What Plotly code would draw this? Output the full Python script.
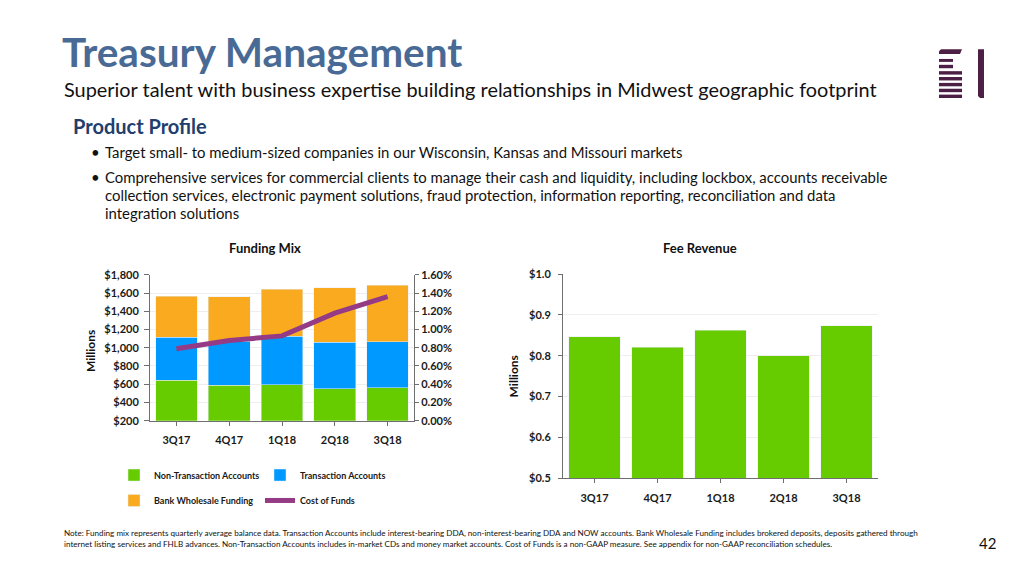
import plotly.graph_objects as go

quarters = ["3Q17", "4Q17", "1Q18", "2Q18", "3Q18"]
non_transaction = [645, 590, 595, 550, 560]
transaction = [470, 480, 530, 510, 505]
bank_wholesale = [450, 492, 515, 600, 620]
cost_of_funds = [0.79, 0.88, 0.93, 1.18, 1.36]
fee_revenue = [0.847, 0.821, 0.862, 0.800, 0.874]

funding_ticks = [200, 400, 600, 800, 1000, 1200, 1400, 1600, 1800]
cof_ticks = [0.0, 0.2, 0.4, 0.6, 0.8, 1.0, 1.2, 1.4, 1.6]
fee_ticks = [0.5, 0.6, 0.7, 0.8, 0.9, 1.0]

funding_labels = [f"${v:,}" for v in funding_ticks]
cof_labels = [f"{v:.2f}%" for v in cof_ticks]
fee_labels = [f"${v:.1f}" for v in fee_ticks]

GREEN = "#66CC00"
BLUE = "#0099FF"
ORANGE = "#F9AA1F"
PURPLE = "#953B86"
FONT = "Lato"

# The page body has an 8px margin on every side; size the figure so the page
# is exactly 1024x576 and shift coordinates by that margin.
OFF = 8
W, H = 1024 - OFF, 576 - 2 * OFF


def px(x):
    return (x - OFF) / W


def py(y):
    return 1 - (y - OFF) / H


fig = go.Figure()

fig.add_trace(go.Bar(x=quarters, y=non_transaction, name="Non-Transaction Accounts",
                     marker_color=GREEN, xaxis="x", yaxis="y", legend="legend"))
fig.add_trace(go.Bar(x=quarters, y=transaction, name="Transaction Accounts",
                     marker_color=BLUE, xaxis="x", yaxis="y", legend="legend2"))
fig.add_trace(go.Bar(x=quarters, y=bank_wholesale, name="Bank Wholesale Funding",
                     marker_color=ORANGE, xaxis="x", yaxis="y", legend="legend3"))
fig.add_trace(go.Scatter(x=quarters, y=cost_of_funds, name="Cost of Funds", mode="lines",
                         line=dict(color=PURPLE, width=5), xaxis="x", yaxis="y2",
                         legend="legend4"))
fig.add_trace(go.Bar(x=quarters, y=fee_revenue, name="Fee Revenue", marker_color=GREEN,
                     xaxis="x2", yaxis="y3", showlegend=False, width=0.81))

axis_font = dict(family=FONT, size=11, color="#1a1a1a", weight="bold")
line_col = "#6f6f6f"
grid_col = "#eeeeee"

leg_font = dict(family=FONT, size=9, color="#1a1a1a", weight="bold")
leg_common = dict(font=leg_font, bgcolor="rgba(0,0,0,0)", xanchor="left", yanchor="middle",
                  orientation="h", borderwidth=0)

fig.update_layout(
    width=W, height=H,
    margin=dict(l=0, r=0, t=0, b=0),
    paper_bgcolor="white", plot_bgcolor="white",
    barmode="stack", bargap=0.21,
    showlegend=True,
    xaxis=dict(domain=[px(150), px(414)], type="category", showline=True, linecolor=line_col,
               linewidth=1, ticks="outside", ticklen=4, tickcolor=line_col, tickfont=axis_font,
               ticklabelstandoff=5, showgrid=False, anchor="y"),
    yaxis=dict(domain=[py(423.3), py(274)], range=[200, 1800], tickmode="array",
               tickvals=funding_ticks, ticktext=funding_labels, showline=True,
               linecolor=line_col, linewidth=1, ticks="outside", ticklen=5,
               tickcolor=line_col, tickfont=axis_font, ticklabelstandoff=3,
               showgrid=True, gridcolor=grid_col, zeroline=False, anchor="x"),
    yaxis2=dict(overlaying="y", side="right", range=[0, 1.6], tickmode="array",
                tickvals=cof_ticks, ticktext=cof_labels, showline=True, linecolor=line_col,
                linewidth=1, ticks="outside", ticklen=4, tickcolor=line_col,
                tickfont=axis_font, showgrid=False, zeroline=False, anchor="x"),
    xaxis2=dict(domain=[px(563), px(878)], type="category", showline=True, linecolor=line_col,
                linewidth=1, ticks="outside", ticklen=4, tickcolor=line_col,
                tickfont=axis_font, ticklabelstandoff=6, showgrid=False, anchor="y3"),
    yaxis3=dict(domain=[py(482.3), py(273.3)], range=[0.5, 1.0], tickmode="array",
                tickvals=fee_ticks, ticktext=fee_labels, showline=True, linecolor=line_col,
                linewidth=1, ticks="outside", ticklen=4, tickcolor=line_col,
                tickfont=axis_font, ticklabelstandoff=5, showgrid=True, gridcolor=grid_col,
                zeroline=False, anchor="x2"),
    legend=dict(x=px(114), y=py(479), **leg_common),
    legend2=dict(x=px(260), y=py(479), **leg_common),
    legend3=dict(x=px(114), y=py(505), **leg_common),
    legend4=dict(x=px(260), y=py(505), **leg_common),
)

annotations = []


def text(x, y, s, size, color="#111111", bold=False, xanchor="left", angle=0):
    annotations.append(dict(
        x=px(x), y=py(y), xref="paper", yref="paper", text=s, showarrow=False,
        xanchor=xanchor, yanchor="middle", textangle=angle,
        font=dict(family=FONT, size=size, color=color, weight="bold" if bold else "normal")))


text(60, 45, "Treasury Management", 40.5, color="#4A6A96", bold=True)
text(62, 84, "Superior talent with business expertise building relationships in Midwest geographic footprint", 19.9)
text(71, 122, "Product Profile", 20, color="#213E6E", bold=True)
text(89, 148.4, "•", 15)
text(103, 148.4, "Target small- to medium-sized companies in our Wisconsin, Kansas and Missouri markets", 14.9)
text(89, 173.4, "•", 15)
text(103, 173.4, "Comprehensive services for commercial clients to manage their cash and liquidity, including lockbox, accounts receivable", 14.9)
text(103, 192.2, "collection services, electronic payment solutions, fraud protection, information reporting, reconciliation and data", 14.9)
text(103, 211.1, "integration solutions", 14.9)
text(265, 246.3, "Funding Mix", 13, bold=True, xanchor="center")
text(700, 246.3, "Fee Revenue", 13, bold=True, xanchor="center")
text(90, 352, "Millions", 12, bold=True, xanchor="center", angle=-90)
text(513, 378, "Millions", 12, bold=True, xanchor="center", angle=-90)
text(62, 538.5, "Note: Funding mix represents quarterly average balance data. Transaction Accounts include interest-bearing DDA, non-interest-bearing DDA and NOW accounts. Bank Wholesale Funding includes brokered deposits, deposits gathered through", 8.1)
text(62, 549.5, "internet listing services and FHLB advances. Non-Transaction Accounts includes in-market CDs and money market accounts. Cost of Funds is a non-GAAP measure. See appendix for non-GAAP reconciliation schedules.", 8.1)
text(987, 549, "42", 15, xanchor="center")

fig.update_layout(annotations=annotations)

# decorative logo
LOGO = "#4E1F45"
shapes = []


def rect(x0, y0, x1, y1):
    shapes.append(dict(type="rect", xref="paper", yref="paper", x0=px(x0), x1=px(x1),
                       y0=py(y1), y1=py(y0), fillcolor=LOGO, line=dict(width=0), layer="above"))


def poly(points):
    d = "M " + " L ".join(f"{px(a):.5f},{py(b):.5f}" for a, b in points) + " Z"
    shapes.append(dict(type="path", xref="paper", yref="paper", path=d, fillcolor=LOGO,
                       line=dict(width=0), layer="above"))


poly([(939, 48), (939, 45), (941, 43), (962, 43), (960, 48)])
rect(939, 53, 953, 56)
rect(939, 59, 953, 62.5)
for yy in [65.5, 71.5, 77.5, 83.5, 89.5]:
    rect(939, yy, 962, yy + 3.5)
poly([(978, 43), (984, 43), (984, 93), (980, 93), (978, 91)])
fig.update_layout(shapes=shapes)

fig.write_html("out.html")
